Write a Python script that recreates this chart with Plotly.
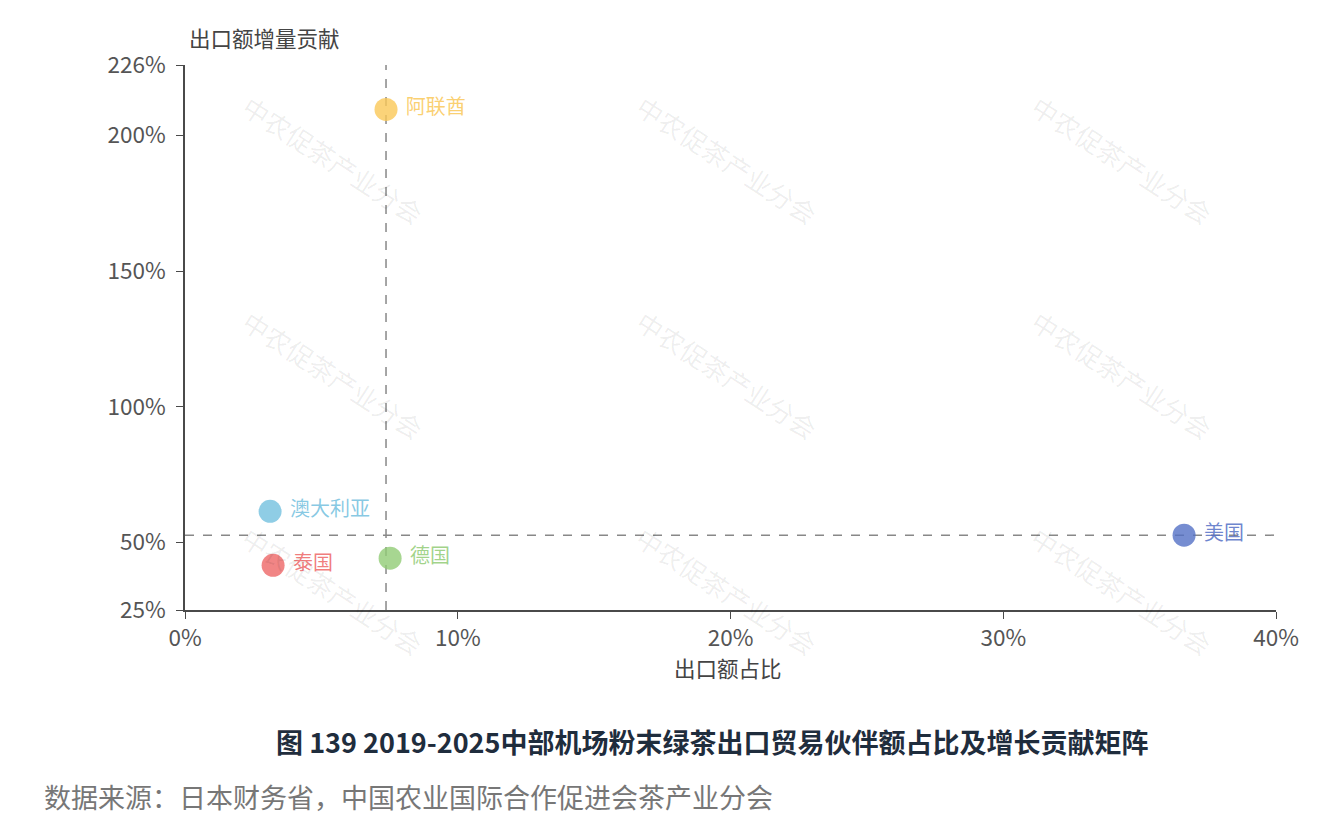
import plotly.graph_objects as go

# Data
countries = ["阿联酋", "澳大利亚", "泰国", "德国", "美国"]
share = [7.37, 3.12, 3.23, 7.52, 36.63]          # 出口额占比 (%)
contribution = [209.6, 61.4, 41.5, 44.1, 52.6]   # 出口额增量贡献 (%)
colors = ["#fac858", "#73c0de", "#ee6666", "#91cc75", "#5470c6"]
avg_share = 7.37
avg_contribution = 52.6
x_ticks = [0, 10, 20, 30, 40]
y_ticks = [25, 50, 100, 150, 200, 226]

FONT = "Noto Sans CJK SC"

fig = go.Figure()

# Reference lines
fig.add_trace(go.Scatter(x=[avg_share, avg_share], y=[25, 226], mode="lines",
                         line=dict(color="#888888", width=1.5, dash="dash"),
                         hoverinfo="skip", showlegend=False))
fig.add_trace(go.Scatter(x=[0, 40], y=[avg_contribution, avg_contribution], mode="lines",
                         line=dict(color="#888888", width=1.5, dash="dash"),
                         hoverinfo="skip", showlegend=False))

def hex_rgba(h, a):
    h = h.lstrip("#")
    return f"rgba({int(h[0:2],16)},{int(h[2:4],16)},{int(h[4:6],16)},{a})"

for c, xv, yv, col in zip(countries, share, contribution, colors):
    fig.add_trace(go.Scatter(
        x=[xv], y=[yv], mode="markers+text", text=["\u00a0" + c],
        textposition="middle right",
        textfont=dict(family=FONT, size=20, color=hex_rgba(col, 0.85)),
        marker=dict(size=23, color=col, opacity=0.8, line=dict(width=0)),
        showlegend=False, cliponaxis=False,
    ))

# Watermarks
annotations = []
wm_x = [333, 727, 1122]
wm_y = [160, 375, 590]
L, R, T, B = 185, 1276, 65, 610
for px in wm_x:
    for py in wm_y:
        annotations.append(dict(
            x=(px - L) / (R - L), y=(B - py) / (B - T), xref="paper", yref="paper",
            xanchor="center", yanchor="middle",
            text="中农促茶产业分会", showarrow=False, textangle=33,
            font=dict(family=FONT, size=26, color="rgba(0,0,0,0.07)"),
        ))

annotations += [
    dict(x=(187 - L) / (R - L), y=(B - 38) / (B - T), xref="paper", yref="paper",
         xanchor="left", yanchor="middle", text="出口额增量贡献", showarrow=False,
         font=dict(family=FONT, size=21.5, color="#444444")),
    dict(x=(728 - L) / (R - L), y=(B - 668) / (B - T), xref="paper", yref="paper",
         xanchor="center", yanchor="middle", text="出口额占比", showarrow=False,
         font=dict(family=FONT, size=21.5, color="#444444")),
    dict(x=(712 - L) / (R - L), y=(B - 741) / (B - T), xref="paper", yref="paper",
         xanchor="center", yanchor="middle",
         text="<b>图 139 2019-2025中部机场粉末绿茶出口贸易伙伴额占比及增长贡献矩阵</b>",
         showarrow=False, font=dict(family=FONT, size=27, color="#1f2d3d")),
    dict(x=(42 - L) / (R - L), y=(B - 796) / (B - T), xref="paper", yref="paper",
         xanchor="left", yanchor="middle",
         text="数据来源：日本财务省，中国农业国际合作促进会茶产业分会",
         showarrow=False, font=dict(family=FONT, size=27, color="#777777")),
]

fig.update_layout(
    width=1338, height=834,
    margin=dict(l=L, r=1338 - R, t=T, b=834 - B),
    paper_bgcolor="white", plot_bgcolor="white",
    font=dict(family=FONT, color="#555555"),
    annotations=annotations,
    showlegend=False,
)
fig.update_xaxes(range=[0, 40], tickvals=x_ticks, ticktext=[f"{v}%" for v in x_ticks],
                 showgrid=False, zeroline=False, showline=True, linecolor="#4a4a4a",
                 linewidth=1.5, ticks="outside", ticklen=7, tickcolor="#4a4a4a",
                 tickfont=dict(family=FONT, size=22.5, color="#555555"))
fig.update_yaxes(range=[25, 226], tickvals=y_ticks, ticktext=[f"{v}%" for v in y_ticks],
                 showgrid=False, zeroline=False, showline=True, linecolor="#4a4a4a",
                 linewidth=1.5, ticks="outside", ticklen=7, tickcolor="#4a4a4a",
                 ticklabelstandoff=6,
                 tickfont=dict(family=FONT, size=22.5, color="#555555"))

fig.write_html("out.html")
